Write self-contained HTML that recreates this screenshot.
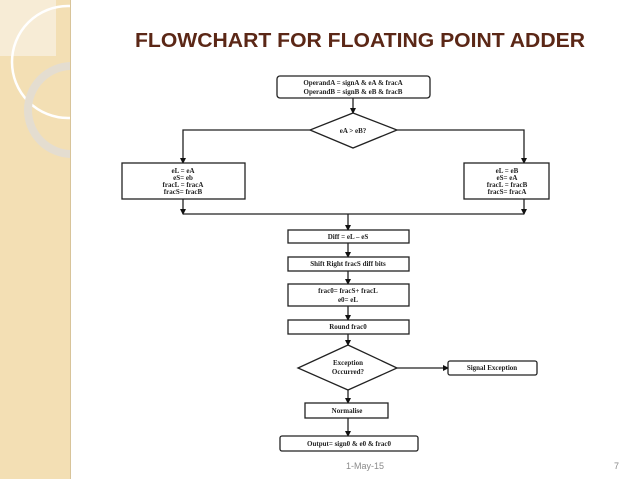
<!DOCTYPE html>
<html><head><style>
html,body{margin:0;padding:0;background:#fff;}
body{width:638px;height:479px;position:relative;overflow:hidden;font-family:"Liberation Sans",sans-serif;}
</style></head><body>
<svg width="638" height="479" viewBox="0 0 638 479" xmlns="http://www.w3.org/2000/svg" style="position:absolute;left:0;top:0">
<defs>
<marker id="a" markerWidth="6" markerHeight="6" refX="5" refY="3" orient="auto" markerUnits="userSpaceOnUse"><path d="M0,0 L6,3 L0,6 z" fill="#111"/></marker>
<clipPath id="sb"><rect x="0" y="0" width="70" height="479"/></clipPath>
</defs>
<rect x="0" y="0" width="70" height="479" fill="#f3dfb4"/>
<rect x="0" y="0" width="56" height="56" fill="#f7ecd6"/>
<g clip-path="url(#sb)">
<circle cx="68" cy="62" r="56" fill="none" stroke="#fff" stroke-width="2.5"/>
<circle cx="72" cy="110" r="44" fill="none" stroke="#e4ddd0" stroke-width="8"/>
</g>
<line x1="70.5" y1="0" x2="70.5" y2="479" stroke="#d8c49a" stroke-width="1"/>
<text x="135" y="47" font-size="20" font-weight="bold" fill="#5b2716" textLength="450" lengthAdjust="spacingAndGlyphs" font-family="Liberation Sans, sans-serif">FLOWCHART FOR FLOATING POINT ADDER</text>
<g stroke="#222" stroke-width="1.3" fill="#fff">
<rect x="277" y="76" width="153" height="22" rx="3"/>
<line x1="353" y1="98" x2="353" y2="113" marker-end="url(#a)"/>
<polygon points="353,113 397,130 353,148 310,130"/>
<polyline points="310,130 183,130 183,163" fill="none" marker-end="url(#a)"/>
<polyline points="397,130 524,130 524,163" fill="none" marker-end="url(#a)"/>
<rect x="122" y="163" width="123" height="36"/>
<rect x="464" y="163" width="85" height="36"/>
<line x1="183" y1="199" x2="183" y2="214" marker-end="url(#a)"/>
<line x1="524" y1="199" x2="524" y2="214" marker-end="url(#a)"/>
<line x1="183" y1="214" x2="524" y2="214"/>
<line x1="348" y1="214" x2="348" y2="230" marker-end="url(#a)"/>
<rect x="288" y="230" width="121" height="13"/>
<line x1="348" y1="243" x2="348" y2="257" marker-end="url(#a)"/>
<rect x="288" y="257" width="121" height="14"/>
<line x1="348" y1="271" x2="348" y2="284" marker-end="url(#a)"/>
<rect x="288" y="284" width="121" height="22"/>
<line x1="348" y1="306" x2="348" y2="320" marker-end="url(#a)"/>
<rect x="288" y="320" width="121" height="14"/>
<line x1="348" y1="334" x2="348" y2="345" marker-end="url(#a)"/>
<polygon points="348,345 397,368 348,390 298,368"/>
<line x1="397" y1="368" x2="448" y2="368" marker-end="url(#a)"/>
<rect x="448" y="361" width="89" height="14" rx="2"/>
<line x1="348" y1="390" x2="348" y2="403" marker-end="url(#a)"/>
<rect x="305" y="403" width="83" height="15"/>
<line x1="348" y1="418" x2="348" y2="436" marker-end="url(#a)"/>
<rect x="280" y="436" width="138" height="15" rx="2"/>
</g>
<g font-family="Liberation Serif, serif" font-size="7" font-weight="bold" fill="#222" text-anchor="middle">
<text x="353" y="85">OperandA = signA &amp; eA &amp; fracA</text>
<text x="353" y="94">OperandB = signB &amp; eB &amp; fracB</text>
<text x="353" y="133">eA &gt; eB?</text>
<text x="183" y="173">eL = eA</text>
<text x="183" y="180">eS= eb</text>
<text x="183" y="187">fracL = fracA</text>
<text x="183" y="194">fracS= fracB</text>
<text x="507" y="173">eL = eB</text>
<text x="507" y="180">eS= eA</text>
<text x="507" y="187">fracL = fracB</text>
<text x="507" y="194">fracS= fracA</text>
<text x="348" y="239">Diff = eL – eS</text>
<text x="348" y="266">Shift Right fracS diff bits</text>
<text x="348" y="293">frac0= fracS+   fracL</text>
<text x="348" y="302">e0= eL</text>
<text x="348" y="329">Round frac0</text>
<text x="348" y="365">Exception</text>
<text x="348" y="374">Occurred?</text>
<text x="492" y="370">Signal Exception</text>
<text x="347" y="413">Normalise</text>
<text x="349" y="446">Output= sign0 &amp; e0 &amp; frac0</text>
</g>
<text x="365" y="469" font-size="9" fill="#8a8a8a" text-anchor="middle">1-May-15</text>
<text x="614" y="469" font-size="9" fill="#8a8a8a">7</text>
</svg>
</body></html>
